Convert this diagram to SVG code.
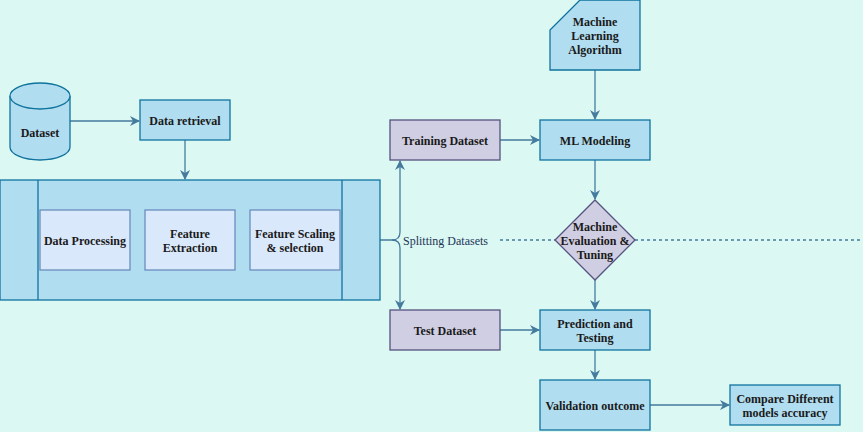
<svg xmlns="http://www.w3.org/2000/svg" width="863" height="432" viewBox="0 0 863 432">
<style>
.t{font-family:'Liberation Serif','DejaVu Serif',serif;font-weight:bold;font-size:12px;fill:#1a1a1a;text-anchor:middle;dominant-baseline:central}
.blue{fill:#b1ddf0;stroke:#10739e;stroke-width:1.3}
.purple{fill:#d0cee2;stroke:#56517e;stroke-width:1.3}
.light{fill:#dae8fc;stroke:#6c8ebf;stroke-width:1.3}
.c{fill:none;stroke:#457b9d;stroke-width:1.3}
.d{fill:none;stroke:#457b9d;stroke-width:1.3;stroke-dasharray:3 3}
.lbl{font-family:'Liberation Serif','DejaVu Serif',serif;font-size:12px;fill:#1d3557;dominant-baseline:central}
</style>
<defs>
<marker id="ab" viewBox="0 0 10 10" refX="9" refY="5" markerWidth="10" markerHeight="10" markerUnits="userSpaceOnUse" orient="auto">
<path d="M0,0 L10,5 L0,10 L3,5 Z" fill="#457b9d"/>
</marker>
</defs>
<rect width="863" height="432" fill="#dbf8f3"/>
<g id="connectors">
<path class="c" d="M70,121 H139" marker-end="url(#ab)"/>
<path class="c" d="M185,140 V179" marker-end="url(#ab)"/>
<path class="c" d="M595,70 V119" marker-end="url(#ab)"/>
<path class="c" d="M500,140 H539" marker-end="url(#ab)"/>
<path class="c" d="M595,160 V199" marker-end="url(#ab)"/>
<path class="c" d="M595,280 V309" marker-end="url(#ab)"/>
<path class="c" d="M500,330 H539" marker-end="url(#ab)"/>
<path class="c" d="M595,350 V379" marker-end="url(#ab)"/>
<path class="c" d="M650,405 H729" marker-end="url(#ab)"/>
<path class="c" d="M380,240 H392 Q400,240 400,232 V161" marker-end="url(#ab)"/>
<path class="c" d="M392,240 Q400,240 400,248 V309" marker-end="url(#ab)"/>
<text class="lbl" x="403" y="241">Splitting Datasets</text>
<path class="d" d="M500,240 H555"/>
<path class="d" d="M635,240 H860"/>
</g>
<g id="dataset">
<path class="blue" d="M10,96 A30,13 0 0 1 70,96 V147 A30,13 0 0 1 10,147 Z"/>
<path class="blue" d="M10,96 A30,13 0 0 0 70,96"/>
<text class="t" x="40" y="133">Dataset</text>
</g>
<g id="data-retrieval">
<rect class="blue" x="140" y="100" width="90" height="40"/>
<text class="t" x="185" y="121">Data retrieval</text>
</g>
<g id="preprocessing">
<rect class="blue" x="0" y="180" width="380" height="120"/>
<path class="blue" d="M38,180 V300 M342,180 V300"/>
</g>
<g id="data-processing">
<rect class="light" x="40" y="210" width="90" height="60"/>
<text class="t" x="85" y="241">Data Processing</text>
</g>
<g id="feature-extraction">
<rect class="light" x="145" y="210" width="90" height="60"/>
<text class="t" x="190" y="234">Feature</text>
<text class="t" x="190" y="248">Extraction</text>
</g>
<g id="feature-scaling">
<rect class="light" x="250" y="210" width="90" height="60"/>
<text class="t" x="295" y="234">Feature Scaling</text>
<text class="t" x="295" y="248">&amp; selection</text>
</g>
<g id="ml-algorithm">
<path class="blue" d="M580,0 H640 V70 H550 V30 Z"/>
<text class="t" x="595" y="22">Machine</text>
<text class="t" x="595" y="36">Learning</text>
<text class="t" x="595" y="50">Algorithm</text>
</g>
<g id="training-dataset">
<rect class="purple" x="390" y="120" width="110" height="40"/>
<text class="t" x="445" y="141">Training Dataset</text>
</g>
<g id="ml-modeling">
<rect class="blue" x="540" y="120" width="110" height="40"/>
<text class="t" x="595" y="141">ML Modeling</text>
</g>
<g id="evaluation">
<path class="purple" d="M595,200 L635,240 L595,280 L555,240 Z"/>
<text class="t" x="595" y="227">Machine</text>
<text class="t" x="595" y="241">Evaluation &amp;</text>
<text class="t" x="595" y="255">Tuning</text>
</g>
<g id="test-dataset">
<rect class="purple" x="390" y="310" width="110" height="40"/>
<text class="t" x="445" y="331">Test Dataset</text>
</g>
<g id="prediction">
<rect class="blue" x="540" y="310" width="110" height="40"/>
<text class="t" x="595" y="324">Prediction and</text>
<text class="t" x="595" y="338">Testing</text>
</g>
<g id="validation">
<rect class="blue" x="540" y="380" width="110" height="50"/>
<text class="t" x="595" y="406">Validation outcome</text>
</g>
<g id="compare">
<rect class="blue" x="730" y="385" width="110" height="40"/>
<text class="t" x="785" y="399">Compare Different</text>
<text class="t" x="785" y="413">models accuracy</text>
</g>
</svg>
